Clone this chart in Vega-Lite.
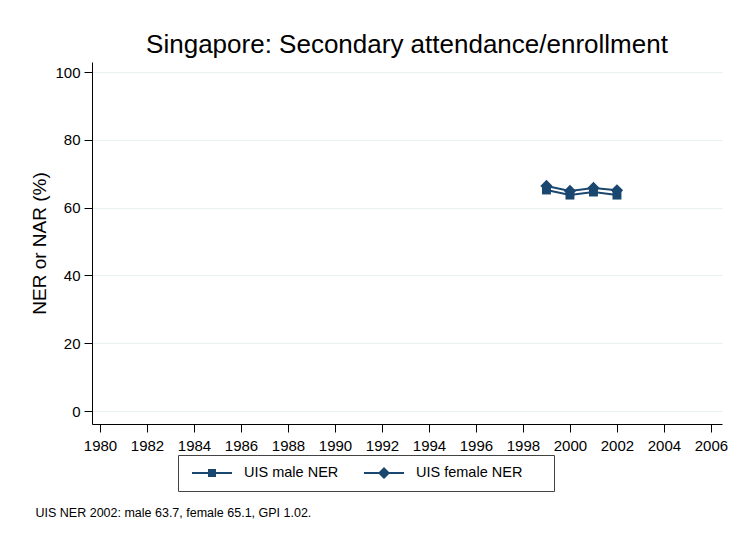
{
  "$schema": "https://vega.github.io/schema/vega-lite/v6.json",
  "autosize": {"type": "none"},
  "width": 630,
  "height": 362,
  "padding": {"left": 92, "top": 62, "right": 9, "bottom": 112},
  "background": "white",
  "config": {
    "font": "Liberation Sans",
    "view": {"stroke": null},
    "axis": {"domainColor": "black", "tickColor": "black", "labelColor": "black", "titleColor": "black", "titleFontWeight": "normal", "labelFont": "Liberation Sans", "titleFont": "Liberation Sans"}
  },
  "title": {
    "text": "Singapore: Secondary attendance/enrollment",
    "fontSize": 26,
    "fontWeight": "normal",
    "font": "Liberation Sans",
    "color": "black",
    "anchor": "middle",
    "offset": 4
  },
  "data": {
    "values": [
      {"year": 1999, "series": "UIS male NER", "value": 65.2},
      {"year": 2000, "series": "UIS male NER", "value": 63.7},
      {"year": 2001, "series": "UIS male NER", "value": 64.6},
      {"year": 2002, "series": "UIS male NER", "value": 63.7},
      {"year": 1999, "series": "UIS female NER", "value": 66.4},
      {"year": 2000, "series": "UIS female NER", "value": 64.9},
      {"year": 2001, "series": "UIS female NER", "value": 65.8},
      {"year": 2002, "series": "UIS female NER", "value": 65.1}
    ]
  },
  "encoding": {
    "x": {
      "field": "year", "type": "quantitative",
      "scale": {"domain": [1979.66, 2006.47], "nice": false, "zero": false},
      "axis": {
        "values": [1980, 1982, 1984, 1986, 1988, 1990, 1992, 1994, 1996, 1998, 2000, 2002, 2004, 2006],
        "format": "d", "grid": false, "labelFontSize": 15, "tickSize": 8, "labelPadding": 6, "labelFlush": false,
        "title": "UIS NER 2002: male 63.7, female 65.1, GPI 1.02.",
        "titleFontSize": 12.5, "titleX": -57, "titleY": 92, "titleAlign": "left", "titleBaseline": "alphabetic", "titleLimit": 1000
      }
    },
    "y": {
      "field": "value", "type": "quantitative",
      "scale": {"domain": [-3.83, 102.95], "nice": false, "zero": false},
      "axis": {
        "values": [0, 20, 40, 60, 80, 100],
        "grid": true, "gridColor": "#e8f0f2", "gridWidth": 1.2,
        "labelFontSize": 15, "tickSize": 8, "labelPadding": 4,
        "title": "NER or NAR (%)", "titleFontSize": 19, "titlePadding": 5
      }
    }
  },
  "layer": [
    {
      "mark": {"type": "line", "color": "#1a476f", "strokeWidth": 2},
      "encoding": {"detail": {"field": "series"}}
    },
    {
      "mark": {"type": "point", "filled": true, "color": "#1a476f", "opacity": 1},
      "encoding": {
        "shape": {
          "field": "series", "type": "nominal",
          "scale": {"domain": ["UIS male NER", "UIS female NER"], "range": ["square", "diamond"]},
          "legend": null
        },
        "size": {
          "field": "series", "type": "nominal",
          "scale": {"domain": ["UIS male NER", "UIS female NER"], "range": [80, 150]},
          "legend": null
        }
      }
    },
    {
      "mark": {"type": "point", "filled": true, "color": "#1a476f", "opacity": 0},
      "encoding": {
        "shape": {
          "field": "series", "type": "nominal",
          "scale": {
            "domain": ["UIS male NER", "UIS female NER"],
            "range": ["M-0.4,-0.1H3.6V0.1H-0.4ZM1.2,-0.4H2V0.4H1.2ZM1.6,-1M1.6,1", "M-0.4,-0.1H3.6V0.1H-0.4ZM1.6,-0.6L2.2,0L1.6,0.6L1,0ZM1.6,-1M1.6,1M17.8,0"]
          },
          "legend": {
            "title": null,
            "orient": "none",
            "direction": "horizontal",
            "legendX": 86,
            "legendY": 393,
            "padding": 8,
            "strokeColor": "#444444",
            "fillColor": "white",
            "labelFontSize": 14.5,
            "labelFont": "Liberation Sans",
            "labelColor": "black",
            "labelOffset": 38,
            "columnPadding": 19,
            "symbolSize": 400,
            "symbolOpacity": 1,
            "symbolStrokeWidth": 0,
            "symbolFillColor": "#1a476f"
          }
        }
      }
    }
  ],
  "resolve": {"scale": {"shape": "independent", "size": "independent"}, "legend": {"shape": "independent"}}
}
